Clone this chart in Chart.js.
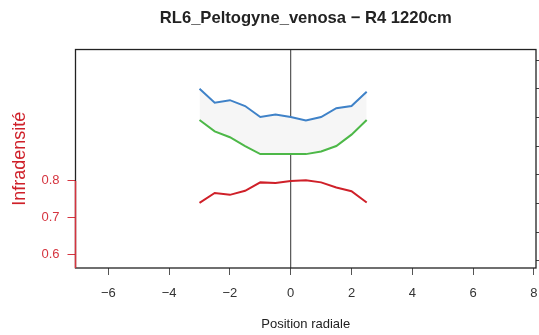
<!DOCTYPE html>
<html>
<head>
<meta charset="utf-8">
<script src="https://cdn.jsdelivr.net/npm/chart.js@4/dist/chart.umd.min.js"></script>
<style>
  html, body { margin: 0; padding: 0; background: #fff; }
  #wrap { width: 539px; height: 335px; }
</style>
</head>
<body>
<div id="wrap"><canvas id="c" width="539" height="335"></canvas></div>
<script>
// radial positions
const positions = [-3, -2.5, -2, -1.5, -1, -0.5, 0, 0.5, 1, 1.5, 2, 2.5];
// infradensity
const redValues = [0.740, 0.767, 0.762, 0.773, 0.796, 0.794, 0.800, 0.802, 0.796, 0.782, 0.772, 0.741];
// upper / lower envelope
const blueValues = [1.051, 1.013, 1.020, 1.004, 0.974, 0.981, 0.974, 0.965, 0.974, 0.998, 1.004, 1.043];
const greenValues = [0.966, 0.935, 0.919, 0.895, 0.873, 0.873, 0.873, 0.873, 0.880, 0.895, 0.926, 0.966];

const xTicks = [-6, -4, -2, 0, 2, 4, 6, 8];
const yTicks = [0.6, 0.7, 0.8];
const y2Ticks = [0, 1, 2, 3, 4, 5, 6, 7];

const RED = '#cf2029';
const RED_AXIS = '#d5343f';
const FONT = "'Liberation Sans', Arial, sans-serif";

const toPts = (vals) => positions.map((x, i) => ({ x, y: vals[i] }));
const minus = (v) => String(v).replace('-', '\u2212');

const framePlugin = {
  id: 'frame',
  beforeDatasetsDraw(chart) {
    const { ctx, chartArea: a, scales } = chart;
    const x0 = scales.x.getPixelForValue(0);
    ctx.save();
    ctx.strokeStyle = '#333';
    ctx.lineWidth = 1;
    ctx.beginPath();
    ctx.moveTo(x0, a.top);
    ctx.lineTo(x0, a.bottom);
    ctx.stroke();
    ctx.restore();
  },
  afterDraw(chart) {
    const { ctx, chartArea: a, scales } = chart;
    ctx.save();
    ctx.strokeStyle = '#222';
    ctx.lineWidth = 1.3;
    ctx.strokeRect(a.left, a.top, a.right - a.left, a.bottom - a.top);
    // red left axis line, up to the last labelled tick
    const yTop = scales.y.getPixelForValue(yTicks[yTicks.length - 1]);
    ctx.strokeStyle = RED_AXIS;
    ctx.lineWidth = 1.5;
    ctx.beginPath();
    ctx.moveTo(a.left, a.bottom);
    ctx.lineTo(a.left, yTop);
    ctx.stroke();
    ctx.restore();
  }
};

new Chart(document.getElementById('c'), {
  type: 'line',
  data: {
    datasets: [
      {
        data: toPts(blueValues),
        borderColor: '#3f82c8',
        borderWidth: 2,
        pointRadius: 0,
        fill: false
      },
      {
        data: toPts(greenValues),
        borderColor: '#4db848',
        borderWidth: 2,
        pointRadius: 0,
        fill: '-1',
        backgroundColor: '#f6f6f6'
      },
      {
        data: toPts(redValues),
        borderColor: RED,
        borderWidth: 2,
        pointRadius: 0,
        fill: false
      }
    ]
  },
  options: {
    responsive: false,
    animation: false,
    layout: { padding: 0 },
    plugins: {
      legend: { display: false },
      tooltip: { enabled: false },
      title: {
        display: true,
        fullSize: false,
        text: 'RL6_Peltogyne_venosa \u2212 R4 1220cm',
        color: '#222',
        font: { family: FONT, size: 16.6, weight: 'bold' },
        padding: { top: 8.6, bottom: 21 }
      }
    },
    scales: {
      x: {
        type: 'linear',
        min: -7.08,
        max: 8.07,
        afterBuildTicks: (s) => { s.ticks = xTicks.map((v) => ({ value: v })); },
        afterFit: (s) => { s.height = 67; s.paddingLeft = 0; s.paddingRight = 0; },
        border: { display: false },
        grid: { display: true, drawOnChartArea: false, tickLength: 7, color: '#555', tickWidth: 1 },
        ticks: {
          color: '#333',
          font: { family: FONT, size: 13 },
          padding: 11,
          maxRotation: 0,
          callback: (v) => minus(v)
        },
        title: {
          display: true,
          text: 'Position radiale',
          color: '#222',
          font: { family: FONT, size: 13 },
          padding: { top: 0, bottom: 2.4 }
        }
      },
      y: {
        position: 'left',
        min: 0.5627,
        max: 1.158,
        afterBuildTicks: (s) => { s.ticks = yTicks.map((v) => ({ value: v })); },
        afterFit: (s) => { s.width = 75.5; s.paddingTop = 0; s.paddingBottom = 0; },
        border: { display: false },
        grid: { display: true, drawOnChartArea: false, tickLength: 8, color: RED_AXIS, tickWidth: 1 },
        ticks: {
          color: RED_AXIS,
          font: { family: FONT, size: 13 },
          padding: 8,
          callback: (v) => v.toFixed(1)
        },
        title: {
          display: true,
          text: 'Infradensité',
          color: RED,
          font: { family: FONT, size: 18 },
          padding: { top: 9, bottom: 0 }
        }
      },
      y2: {
        position: 'right',
        min: -0.254,
        max: 7.366,
        afterBuildTicks: (s) => { s.ticks = y2Ticks.map((v) => ({ value: v })); },
        afterFit: (s) => { s.width = 3; s.paddingTop = 0; s.paddingBottom = 0; },
        border: { display: false },
        grid: { display: true, drawOnChartArea: false, tickLength: 5, color: '#444', tickWidth: 1 },
        ticks: { display: true, padding: 0, callback: () => '' }
      }
    }
  },
  plugins: [framePlugin]
});
</script>
</body>
</html>
